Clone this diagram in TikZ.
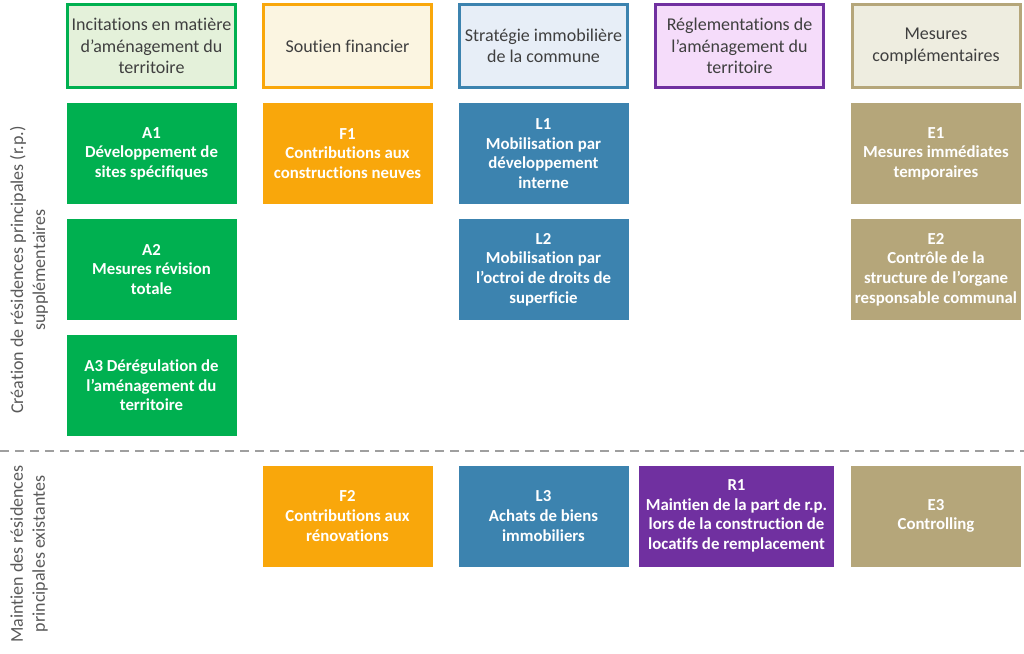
\documentclass[tikz,border=0pt]{standalone}
\usepackage{fontspec}
\setmainfont{Carlito}[Ligatures=NoCommon]
\definecolor{cgreen}{HTML}{00B050}
\definecolor{cgreenL}{HTML}{E4F1DA}
\definecolor{corange}{HTML}{F9A70B}
\definecolor{corangeL}{HTML}{FBF5E1}
\definecolor{cblue}{HTML}{3C83AF}
\definecolor{cblueL}{HTML}{E7EEF7}
\definecolor{cpurple}{HTML}{7030A0}
\definecolor{cpurpleL}{HTML}{F5DCFA}
\definecolor{ctan}{HTML}{B5A67A}
\definecolor{ctanL}{HTML}{EEEDE0}
\definecolor{ctext}{HTML}{3F3F3F}
\definecolor{cside}{HTML}{595959}
\tikzset{
  headbox/.style={draw=#1, line width=3pt, fill=#1L, minimum width=168pt, minimum height=83pt,
    inner sep=0pt, align=center, text=ctext, font=\fontsize{18}{21.5}\selectfont},
  bodybox/.style={draw=white, line width=0.6pt, fill=#1, minimum width=171pt, minimum height=102pt,
    inner sep=0pt, align=center, text=white, font=\fontsize{16.8}{19.6}\selectfont\bfseries},
  sidelabel/.style={rotate=90, align=center, text=cside, inner sep=0pt, font=\fontsize{18}{22}\selectfont},
  sepline/.style={draw=gray!75, line width=2pt, dash pattern=on 9pt off 6pt}
}
\begin{document}
\begin{tikzpicture}[x=1pt,y=-1pt]
\useasboundingbox (0,0) rectangle (1024,653);
% headers
\node[headbox=cgreen]  (h1) at (151.5,46) {Incitations en matière\\d’aménagement du\\territoire};
\node[headbox=corange] (h2) at (347.5,46) {Soutien financier};
\node[headbox=cblue]   (h3) at (543.5,46) {Stratégie immobilière\\de la commune};
\node[headbox=cpurple] (h4) at (739.5,46) {Réglementations de\\l’aménagement du\\territoire};
\node[headbox=ctan]    (h5) at (936,46) {Mesures\\complémentaires};
% first block
\node[bodybox=cgreen]  (a1) at (151.5,153.5) {A1\\Développement de\\sites spécifiques};
\node[bodybox=cgreen]  (a2) at (151.5,269.5) {A2\\Mesures révision\\totale};
\node[bodybox=cgreen]  (a3) at (151.5,385.5) {A3 Dérégulation de\\l’aménagement du\\territoire};
\node[bodybox=corange] (f1) at (347.5,153.5) {F1\\Contributions aux\\constructions neuves};
\node[bodybox=cblue]   (l1) at (543.5,153.5) {L1\\Mobilisation par\\développement\\interne};
\node[bodybox=cblue]   (l2) at (543.5,269.5) {L2\\Mobilisation par\\l’octroi de droits de\\superficie};
\node[bodybox=ctan]    (e1) at (936,153.5) {E1\\Mesures immédiates\\temporaires};
\node[bodybox=ctan]    (e2) at (936,269.5) {E2\\Contrôle de la\\structure de l’organe\\responsable communal};
% separator
\coordinate (sl) at (0,451);
\coordinate (sr) at (1024,451);
\draw[sepline] (sl) -- (sr);
% second block
\node[bodybox=corange] (f2) at (347.5,516) {F2\\Contributions aux\\rénovations};
\node[bodybox=cblue]   (l3) at (543.5,516) {L3\\Achats de biens\\immobiliers};
\node[bodybox=cpurple, minimum width=196pt] (r1) at (736.5,516) {R1\\Maintien de la part de r.p.\\lors de la construction de\\locatifs de remplacement};
\node[bodybox=ctan]    (e3) at (936,516) {E3\\Controlling};
% side labels
\node[sidelabel] (s1) at (29,270) {Création de résidences principales (r.p.)\\supplémentaires};
\node[sidelabel] (s2) at (29,554) {Maintien des résidences\\principales existantes};
\end{tikzpicture}
\end{document}
